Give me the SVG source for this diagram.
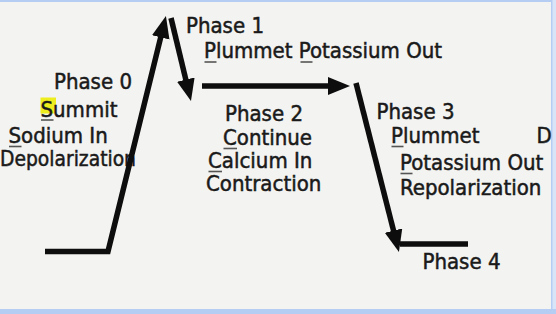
<svg xmlns="http://www.w3.org/2000/svg" width="556" height="314" viewBox="0 0 556 314">
<style>
text{font-family:"DejaVu Sans Condensed","DejaVu Sans","Liberation Sans",sans-serif;font-size:22px;fill:#1a1a1a;stroke:#1a1a1a;stroke-width:0.5}
.ln{fill:none;stroke:#0d0d0d;stroke-width:5.5}
.ul{stroke:#555;stroke-width:1.6}
</style>
<defs>
<marker id="ah" markerUnits="userSpaceOnUse" markerWidth="24" markerHeight="20" refX="8" refY="9" orient="auto">
<path d="M0,0 L22,9 L0,18 z" fill="#0d0d0d"/>
</marker>
</defs>
<rect width="556" height="314" fill="#f3f3f1"/>
<rect x="0" y="0" width="556" height="2" fill="#b6cdf3"/>
<rect x="551" y="0" width="5" height="314" fill="#d8e4f8"/>
<rect x="551" y="0" width="1.5" height="314" fill="#b6cdf3"/>
<rect x="0" y="309" width="556" height="5" fill="#b6cdf3"/>
<g id="phase0">
<rect x="40.5" y="97.5" width="15.5" height="16" fill="#eeee1e"/>
<text x="54" y="89">Phase 0</text>
<text x="40.5" y="116.5">Summit</text>
<line class="ul" x1="41" y1="120" x2="53.5" y2="120"/>
<text x="8.5" y="143">Sodium In</text>
<line class="ul" x1="9" y1="146.5" x2="21.5" y2="146.5"/>
<text x="0" y="166" textLength="136" lengthAdjust="spacingAndGlyphs">Depolarization</text>
</g>
<g id="phase1">
<text x="186" y="33">Phase 1</text>
<text x="204" y="58">Plummet Potassium Out</text>
<line class="ul" x1="204.5" y1="62" x2="216.5" y2="62"/>
<line class="ul" x1="300.5" y1="62" x2="312.5" y2="62"/>
</g>
<g id="phase2">
<text x="225" y="121">Phase 2</text>
<text x="223" y="145">Continue</text>
<line class="ul" x1="223.5" y1="148.5" x2="237" y2="148.5"/>
<text x="208" y="168">Calcium In</text>
<line class="ul" x1="208.5" y1="171.5" x2="222" y2="171.5"/>
<text x="206" y="190.5">Contraction</text>
</g>
<g id="phase3">
<text x="376.5" y="119">Phase 3</text>
<text x="391" y="143">Plummet</text>
<line class="ul" x1="391.5" y1="146.5" x2="403.5" y2="146.5"/>
<text x="400" y="170">Potassium Out</text>
<line class="ul" x1="400.5" y1="173.5" x2="412.5" y2="173.5"/>
<text x="400" y="195">Repolarization</text>
</g>
<g id="phase4">
<text x="422.5" y="269">Phase 4</text>
</g>
<g id="edge-label">
<text x="536.5" y="143">D</text>
</g>
<g id="connectors">
<polyline class="ln" points="45,251.5 108,251.5 162.6,29.6" marker-end="url(#ah)"/>
<line class="ln" x1="171" y1="18" x2="187.7" y2="87.4" marker-end="url(#ah)"/>
<line class="ln" x1="202" y1="86" x2="336" y2="86" marker-end="url(#ah)"/>
<line class="ln" x1="356" y1="83" x2="395.5" y2="238.4" marker-end="url(#ah)"/>
<line class="ln" x1="400" y1="244" x2="468" y2="244"/>
</g>
</svg>
